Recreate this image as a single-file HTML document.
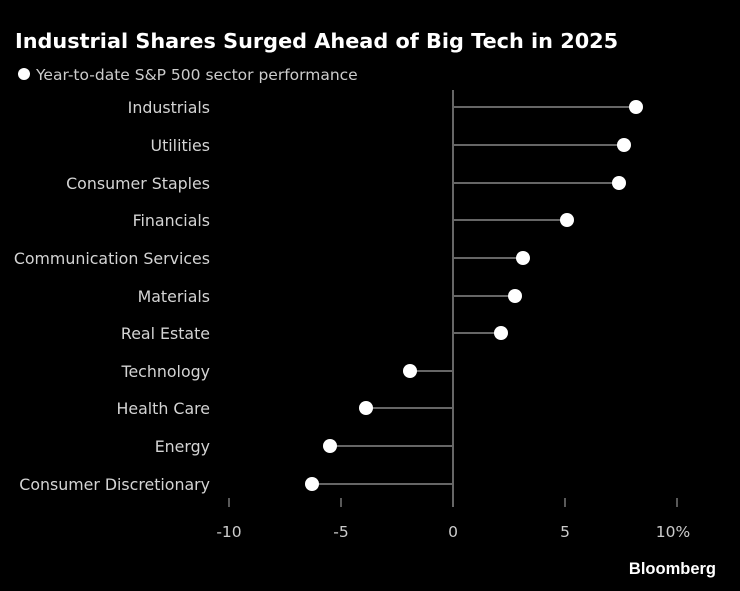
<!DOCTYPE html>
<html><head><meta charset="utf-8"><style>
body{margin:0;background:#000;}
svg{display:block;font-family:"DejaVu Sans","Liberation Sans",sans-serif;}
</style></head><body>
<svg width="740" height="591" viewBox="0 0 740 591">
<rect width="740" height="591" fill="#000"/>
<text x="15" y="48" fill="#fff" font-size="20.8" font-weight="bold">Industrial Shares Surged Ahead of Big Tech in 2025</text>
<circle cx="24" cy="74" r="6" fill="#fff"/>
<text x="36" y="80" fill="#ccc" font-size="15.5">Year-to-date S&amp;P 500 sector performance</text>
<line x1="453" y1="90" x2="453" y2="507" stroke="#666" stroke-width="2"/>
<g stroke="#777" stroke-width="1.5">
<line x1="229" y1="498" x2="229" y2="507"/><line x1="341" y1="498" x2="341" y2="507"/><line x1="565" y1="498" x2="565" y2="507"/><line x1="677" y1="498" x2="677" y2="507"/>
</g>
<g fill="#ccc" font-size="15.5" text-anchor="middle">
<text x="229" y="537">-10</text><text x="341" y="537">-5</text><text x="453" y="537">0</text><text x="565" y="537">5</text><text x="673" y="537">10%</text>
</g>
<g stroke="#666" stroke-width="2">
<line x1="453" y1="107" x2="636" y2="107"/>
<line x1="453" y1="145" x2="624" y2="145"/>
<line x1="453" y1="183" x2="619" y2="183"/>
<line x1="453" y1="220" x2="567" y2="220"/>
<line x1="453" y1="258" x2="523" y2="258"/>
<line x1="453" y1="296" x2="515" y2="296"/>
<line x1="453" y1="333" x2="501" y2="333"/>
<line x1="453" y1="371" x2="410" y2="371"/>
<line x1="453" y1="408" x2="366" y2="408"/>
<line x1="453" y1="446" x2="330" y2="446"/>
<line x1="453" y1="484" x2="312" y2="484"/>
</g>
<g fill="#fff">
<circle cx="636" cy="107" r="7"/><circle cx="624" cy="145" r="7"/><circle cx="619" cy="183" r="7"/><circle cx="567" cy="220" r="7"/><circle cx="523" cy="258" r="7"/><circle cx="515" cy="296" r="7"/><circle cx="501" cy="333" r="7"/><circle cx="410" cy="371" r="7"/><circle cx="366" cy="408" r="7"/><circle cx="330" cy="446" r="7"/><circle cx="312" cy="484" r="7"/>
</g>
<g fill="#d4d4d4" font-size="15.8" text-anchor="end">
<text x="210" y="113">Industrials</text>
<text x="210" y="151">Utilities</text>
<text x="210" y="189">Consumer Staples</text>
<text x="210" y="226">Financials</text>
<text x="210" y="264">Communication Services</text>
<text x="210" y="302">Materials</text>
<text x="210" y="339">Real Estate</text>
<text x="210" y="377">Technology</text>
<text x="210" y="414">Health Care</text>
<text x="210" y="452">Energy</text>
<text x="210" y="490">Consumer Discretionary</text>
</g>
<text x="716" y="574" fill="#fff" font-size="16.5" font-weight="bold" text-anchor="end" font-family="Liberation Sans, sans-serif">Bloomberg</text>
</svg>
</body></html>
